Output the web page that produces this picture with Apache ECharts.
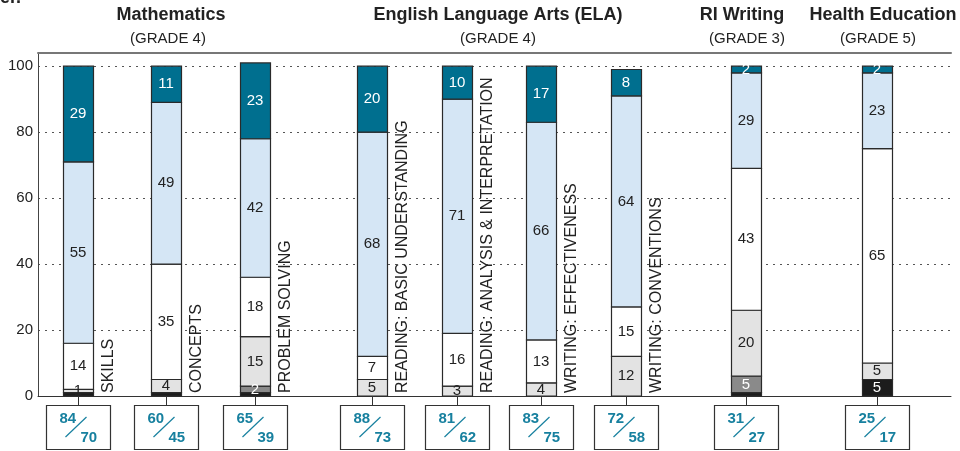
<!DOCTYPE html>
<html>
<head>
<meta charset="utf-8">
<script src="https://cdn.jsdelivr.net/npm/echarts@6/dist/echarts.min.js"></script>
<style>
html, body { margin: 0; padding: 0; background: #fff; }
#chart { width: 960px; height: 451px; }
</style>
</head>
<body>
<div id="chart"></div>
<script>
// data, one array per performance level (bottom to top)
var subjects = ['SKILLS', 'CONCEPTS', 'PROBLEM SOLVING', 'READING: BASIC UNDERSTANDING',
    'READING: ANALYSIS & INTERPRETATION', 'WRITING: EFFECTIVENESS', 'WRITING: CONVENTIONS', '', ''];
var level1 = [1, 1, 1, 0, 0, 0, 0, 1, 5];
var level2 = [0, 0, 2, 0, 0, 0, 0, 5, 0];
var level3 = [1, 4, 15, 5, 3, 4, 12, 20, 5];
var level4 = [14, 35, 18, 7, 16, 13, 15, 43, 65];
var level5 = [55, 49, 42, 68, 71, 66, 64, 29, 23];
var level6 = [29, 11, 23, 20, 10, 17, 8, 2, 2];
var topNums = [84, 60, 65, 88, 81, 83, 72, 31, 25];
var bottomNums = [70, 45, 39, 73, 62, 75, 58, 27, 17];
var yTicks = [0, 20, 40, 60, 80, 100];
var groupTitles = ['Mathematics', 'English Language Arts (ELA)', 'RI Writing', 'Health Education'];
var groupGrades = ['(GRADE 4)', '(GRADE 4)', '(GRADE 3)', '(GRADE 5)'];

// layout
var barX = [40, 128, 217, 334, 419, 503, 588, 708, 839];
var titleX = [171, 498, 742, 883];
var gradeX = [168, 498, 747, 878];
var BAR_W = 30;
var FONT = '"Liberation Sans", Arial, sans-serif';
var TEAL_TEXT = '#17809f';

var levels = [
    {data: level1, color: '#1c1c1c', text: '#fff', minLabel: 2},
    {data: level2, color: '#8a8a8a', text: '#fff', minLabel: 1},
    {data: level3, color: '#e3e3e3', text: '#222', minLabel: 1},
    {data: level4, color: '#ffffff', text: '#222', minLabel: 1},
    {data: level5, color: '#d5e6f5', text: '#222', minLabel: 1},
    {data: level6, color: '#006f8f', text: '#fff', minLabel: 1}
];

// running base of every bar, so each level sits on the ones below it
var base = barX.map(function () { return 0; });

var series = levels.map(function (lv) {
    var rows = lv.data.map(function (v, i) {
        var row = [barX[i], base[i], base[i] + v, v];
        base[i] += v;
        return row;
    });
    return {
        type: 'custom',
        clip: false,
        data: rows,
        encode: {x: 0, y: [1, 2]},
        renderItem: function (params, api) {
            var v = api.value(3);
            if (!v) return null;
            var p0 = api.coord([api.value(0), api.value(1)]);
            var p1 = api.coord([api.value(0), api.value(2)]);
            var children = [{
                type: 'rect',
                shape: {x: Math.round(p0[0] - BAR_W / 2) + 0.5, y: p1[1], width: BAR_W, height: p0[1] - p1[1]},
                style: {fill: lv.color, stroke: '#2a2a2a', lineWidth: 1.2}
            }];
            if (v >= lv.minLabel) {
                children.push({
                    type: 'text', x: p0[0], y: (p0[1] + p1[1]) / 2, z2: 100,
                    style: {text: String(v), fontSize: 15, fontFamily: FONT, fill: lv.text,
                        align: 'center', verticalAlign: 'middle'}
                });
            }
            return {type: 'group', children: children};
        }
    };
});

// rotated subject names beside the bars
series.push({
    type: 'custom',
    clip: false,
    data: barX.map(function (x) { return [x, 0]; }),
    encode: {x: 0, y: 1},
    renderItem: function (params, api) {
        var p = api.coord([api.value(0), 0]);
        return {
            type: 'text',
            x: p[0] + 31,
            y: p[1] - 3,
            rotation: Math.PI / 2,
            style: {
                text: subjects[params.dataIndex],
                fontSize: 16,
                fontFamily: FONT,
                fill: '#222',
                align: 'left',
                verticalAlign: 'middle'
            }
        };
    },
    z: 5
});

// boxes with the two numbers under every bar
series.push({
    type: 'custom',
    clip: false,
    data: barX.map(function (x) { return [x, 0]; }),
    encode: {x: 0, y: 1},
    renderItem: function (params, api) {
        var i = params.dataIndex;
        var p = api.coord([api.value(0), 0]);
        var x = Math.round(p[0]) + 0.5, y = Math.round(p[1]);
        return {
            type: 'group',
            children: [
                {type: 'line', shape: {x1: x, y1: y, x2: x, y2: y + 9}, style: {stroke: '#333', lineWidth: 1}},
                {type: 'rect', shape: {x: x - 32, y: y + 9.5, width: 64, height: 44},
                    style: {fill: '#fff', stroke: '#333', lineWidth: 1.2}},
                {type: 'line', shape: {x1: x - 13, y1: y + 41, x2: x + 8, y2: y + 21},
                    style: {stroke: TEAL_TEXT, lineWidth: 1.2}},
                {type: 'text', x: x - 19, y: y + 23, style: {text: String(topNums[i]), fontSize: 15,
                    fontWeight: 'bold', fontFamily: FONT, fill: TEAL_TEXT, align: 'left', verticalAlign: 'middle'}},
                {type: 'text', x: x + 2, y: y + 42, style: {text: String(bottomNums[i]), fontSize: 15,
                    fontWeight: 'bold', fontFamily: FONT, fill: TEAL_TEXT, align: 'left', verticalAlign: 'middle'}}
            ]
        };
    },
    z: 5
});

var graphics = [{
    type: 'text', left: 0, top: -11,
    style: {text: 'er.', font: 'bold 18px ' + FONT, fill: '#222'}
}];
groupTitles.forEach(function (t, i) {
    graphics.push({type: 'text', x: titleX[i], y: 15,
        style: {text: t, fontSize: 18, fontWeight: 'bold', fontFamily: FONT, fill: '#222', align: 'center', verticalAlign: 'middle'}});
    graphics.push({type: 'text', x: gradeX[i], y: 39,
        style: {text: groupGrades[i], fontSize: 15, fontFamily: FONT, fill: '#222', align: 'center', verticalAlign: 'middle'}});
});

var option = {
    animation: false,
    backgroundColor: '#fff',
    grid: {left: 38, right: 9, top: 53, bottom: 55},
    xAxis: [{
        type: 'value', min: 0, max: 913, position: 'bottom',
        axisLine: {show: true, lineStyle: {color: '#333', width: 1}},
        axisTick: {show: false}, axisLabel: {show: false}, splitLine: {show: false}
    }, {
        type: 'value', min: 0, max: 913, position: 'top',
        axisLine: {show: true, lineStyle: {color: '#777', width: 2}},
        axisTick: {show: false}, axisLabel: {show: false}, splitLine: {show: false}
    }],
    yAxis: {
        type: 'value', min: 0, max: 104, interval: 20,
        axisLine: {show: true, lineStyle: {color: '#444', width: 1}},
        axisTick: {show: false},
        axisLabel: {
            color: '#222', fontSize: 15, fontFamily: FONT, margin: 5,
            formatter: function (v) { return yTicks.indexOf(v) >= 0 ? String(v) : ''; }
        },
        splitLine: {show: true, lineStyle: {color: '#555', width: 1, type: [2, 5]}}
    },
    graphic: graphics,
    series: series
};

var myChart = echarts.init(document.getElementById('chart'));
myChart.setOption(option);
</script>
</body>
</html>
